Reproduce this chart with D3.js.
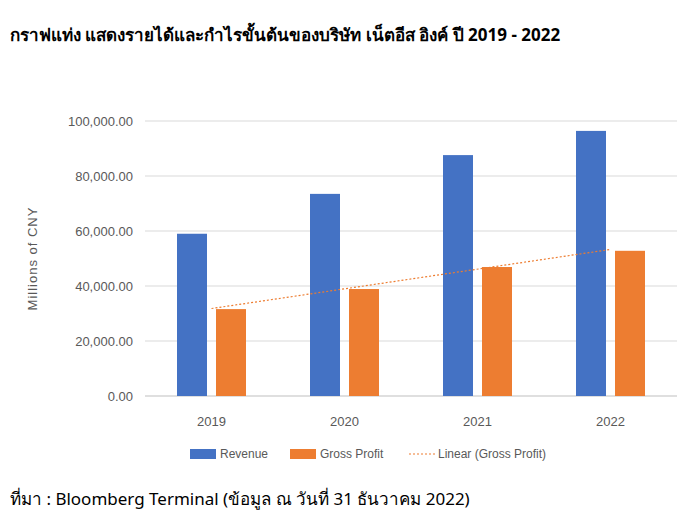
<!DOCTYPE html>
<html><head><meta charset="utf-8">
<script src="https://cdn.jsdelivr.net/npm/d3@7"></script>
<style>body{margin:0;background:#fff;font-family:"Liberation Sans",Arial,sans-serif}</style>
</head><body><svg id="chart" width="694" height="524"></svg>
<script>
const years = ["2019", "2020", "2021", "2022"];
const revenue = [59000, 73500, 87600, 96400];
const grossProfit = [31600, 38900, 46900, 52800];
const yTicks = [0, 20000, 40000, 60000, 80000, 100000];

const svg = d3.select("#chart");
const m = {left: 145, right: 17, top: 121, bottom: 128};
const W = 694, H = 524;

const x = d3.scaleBand().domain(years).range([m.left, W - m.right]);
const y = d3.scaleLinear().domain([0, 100000]).range([H - m.bottom, m.top]);

// titre
svg.append("text").attr("x", 10).attr("y", 41).attr("font-size", 17).attr("font-weight", "bold")
    .attr("font-family", "'Noto Sans','Liberation Sans',sans-serif")
    .text("กราฟแท่ง แสดงรายได้และกำไรขั้นต้นของบริษัท เน็ตอีส อิงค์ ปี 2019 - 2022");

// grille
svg.append("g").selectAll("line").data(yTicks).join("line")
    .attr("x1", m.left).attr("x2", W - m.right)
    .attr("y1", d => y(d)).attr("y2", d => y(d))
    .attr("stroke", d => d === 0 ? "#bfbfbf" : "#d9d9d9").attr("stroke-width", 1);

svg.append("g").selectAll("text").data(yTicks).join("text")
    .attr("x", m.left - 12).attr("y", d => y(d) + 5).attr("text-anchor", "end")
    .attr("font-size", 13).attr("fill", "#595959")
    .text(d => d3.format(",.2f")(d));

svg.append("text").attr("transform", `translate(37,${y(50000)}) rotate(-90)`)
    .attr("text-anchor", "middle").attr("font-size", 13).attr("fill", "#595959")
    .attr("letter-spacing", 1).text("Millions of CNY");

// barres
const bw = 30, gap = 9;
const cx = d => x(d) + x.bandwidth() / 2;
svg.append("g").selectAll("rect").data(years).join("rect")
    .attr("x", d => cx(d) - gap / 2 - bw).attr("width", bw)
    .attr("y", (d, i) => y(revenue[i])).attr("height", (d, i) => y(0) - y(revenue[i]))
    .attr("fill", "#4472c4");
svg.append("g").selectAll("rect").data(years).join("rect")
    .attr("x", d => cx(d) + gap / 2).attr("width", bw)
    .attr("y", (d, i) => y(grossProfit[i])).attr("height", (d, i) => y(0) - y(grossProfit[i]))
    .attr("fill", "#ed7d31");

// tendance linéaire
const n = grossProfit.length, xs = d3.range(n);
const mx = d3.mean(xs), my = d3.mean(grossProfit);
const slope = d3.sum(xs, i => (i - mx) * (grossProfit[i] - my)) / d3.sum(xs, i => (i - mx) ** 2);
const icpt = my - slope * mx;
svg.append("line")
    .attr("x1", cx(years[0])).attr("y1", y(icpt))
    .attr("x2", cx(years[n - 1])).attr("y2", y(icpt + slope * (n - 1)))
    .attr("stroke", "#ed7d31").attr("stroke-width", 1.2).attr("stroke-dasharray", "2,2");

svg.append("g").selectAll("text").data(years).join("text")
    .attr("x", cx).attr("y", y(0) + 30).attr("text-anchor", "middle")
    .attr("font-size", 13).attr("fill", "#595959").text(d => d);

// légende
const lg = svg.append("g").attr("font-size", 12).attr("fill", "#595959");
lg.append("rect").attr("x", 190).attr("y", 449).attr("width", 26).attr("height", 10).attr("fill", "#4472c4");
lg.append("text").attr("x", 220).attr("y", 458).attr("fill", "#595959").text("Revenue");
lg.append("rect").attr("x", 290).attr("y", 449).attr("width", 26).attr("height", 10).attr("fill", "#ed7d31");
lg.append("text").attr("x", 320).attr("y", 458).attr("fill", "#595959").text("Gross Profit");
lg.append("line").attr("x1", 409).attr("x2", 435).attr("y1", 454).attr("y2", 454)
    .attr("stroke", "#ed7d31").attr("stroke-dasharray", "2,2").attr("stroke-width", 1.2);
lg.append("text").attr("x", 438).attr("y", 458).attr("fill", "#595959").text("Linear (Gross Profit)");

// source
svg.append("text").attr("x", 10).attr("y", 505).attr("font-size", 17)
    .attr("font-family", "'Noto Sans','Liberation Sans',sans-serif")
    .text("ที่มา : Bloomberg Terminal (ข้อมูล ณ วันที่ 31 ธันวาคม 2022)");
</script></body></html>
